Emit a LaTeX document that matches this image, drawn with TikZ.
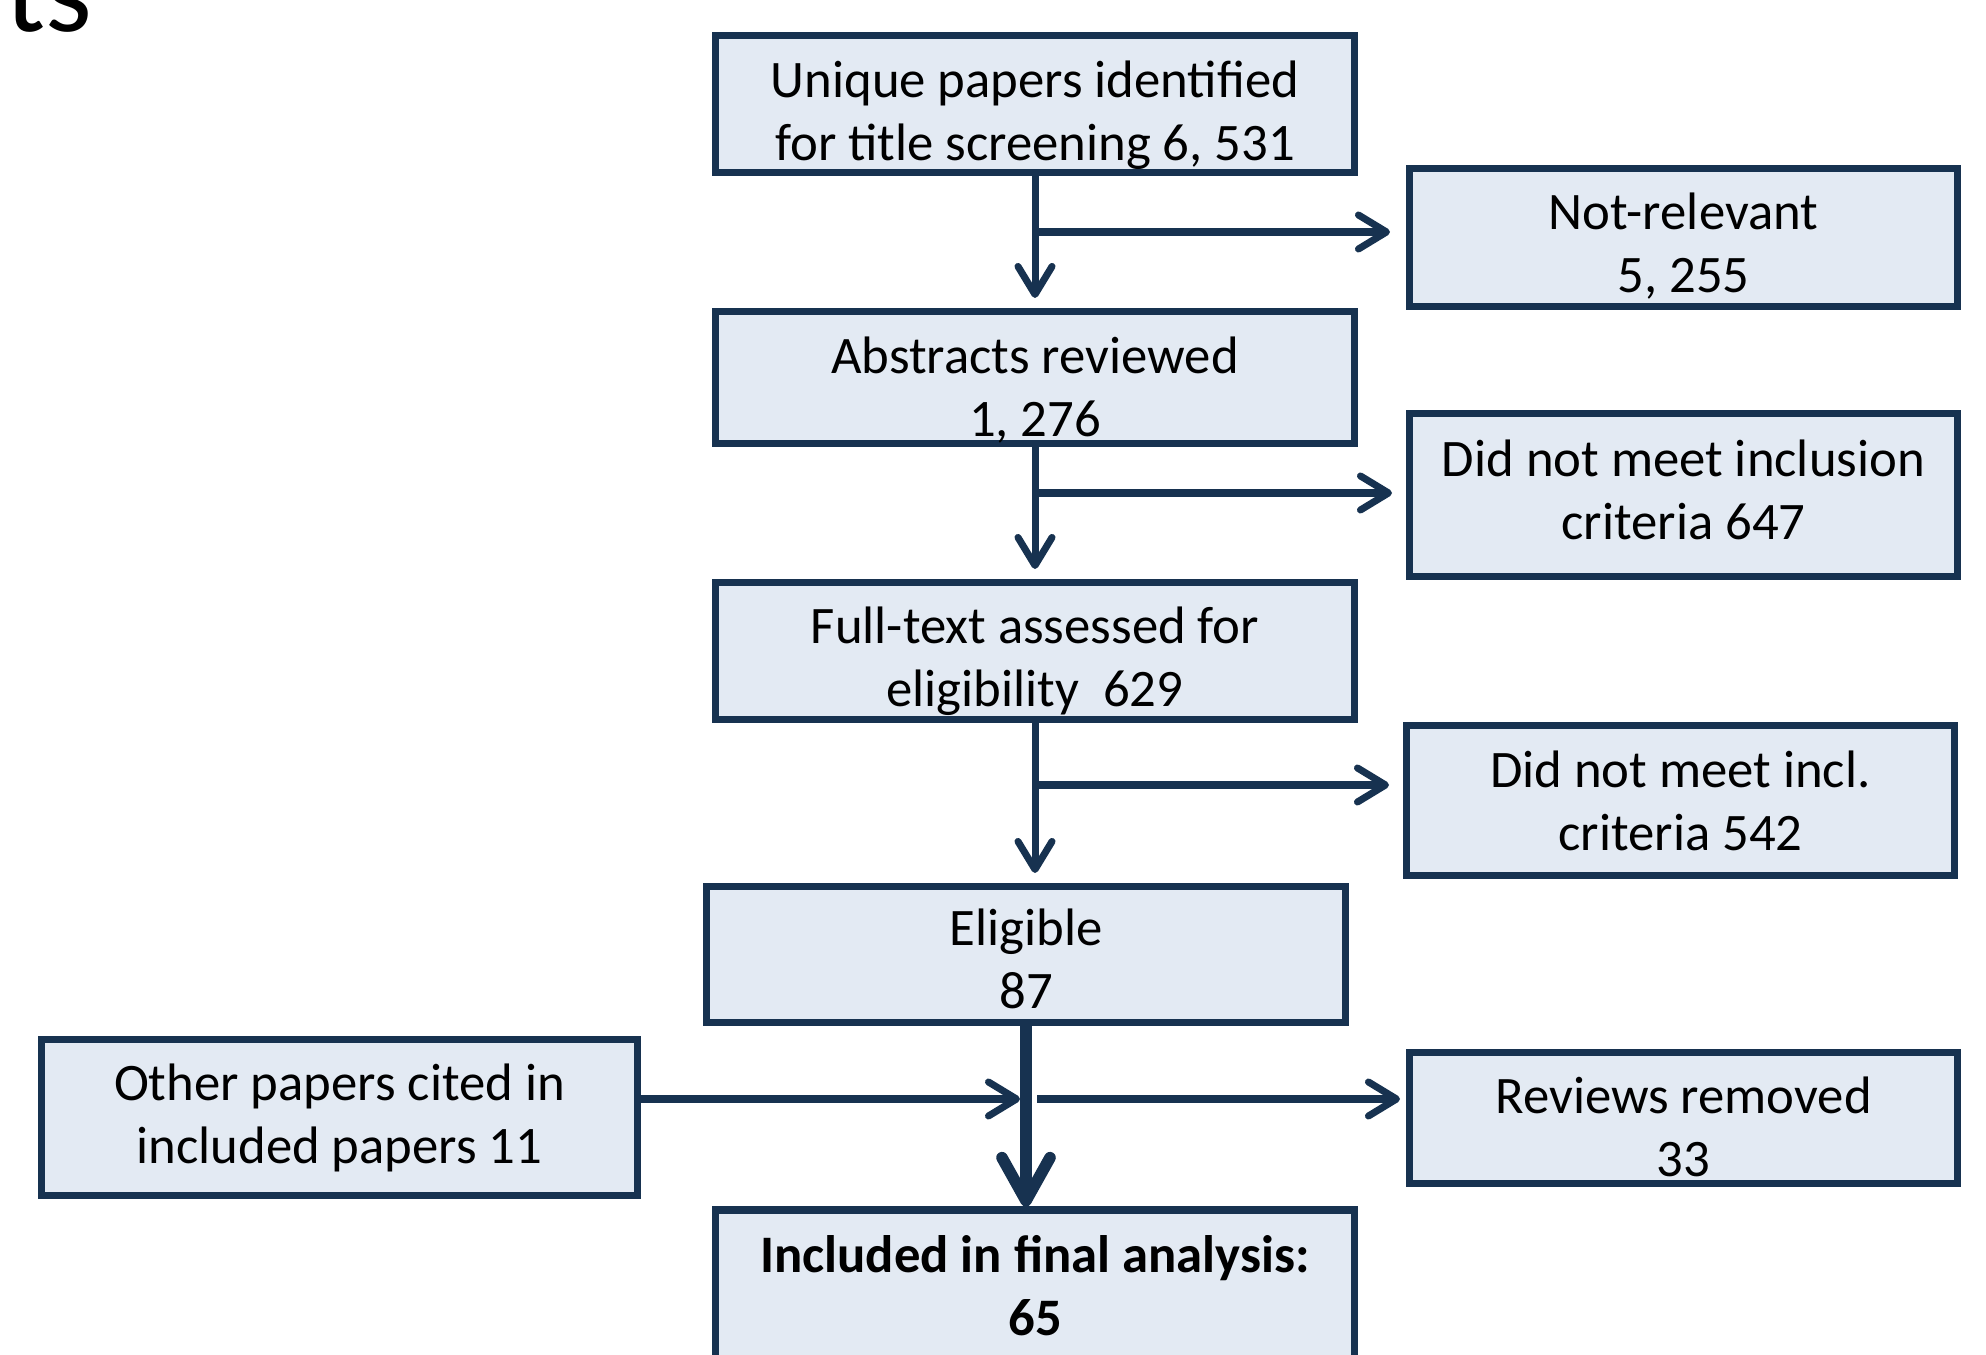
\documentclass[tikz,border=0pt]{standalone}
\usepackage{fontspec}
\setmainfont{Carlito}
\usepackage{tikz}
\usetikzlibrary{arrows.meta,calc}

\definecolor{navy}{RGB}{23,50,80}
\definecolor{paleblue}{RGB}{227,234,243}

% two centred lines, both moved down by #1 inside their box
\newcommand{\boxlines}[3]{\raisebox{-#1}[\height][\depth]{#2}\\\raisebox{-#1}[\height][\depth]{#3}}

\begin{document}
\begin{tikzpicture}[
        box/.style={draw=navy,fill=paleblue,line width=2pt,align=center,inner sep=0pt,font=\fontsize{15}{17.9}\selectfont},
        arr/.style={draw=navy,line width=2pt,-{Straight Barb[length=2.8mm,width=3.4mm,round]}},
        bigarr/.style={draw=navy,line width=3.3pt,-{Straight Barb[length=4.3mm,width=4.8mm,round]}}
    ]
        \useasboundingbox (0,0) rectangle (19.86,-13.55);

        % Title, cut by the page edge
        \node[anchor=base east,inner sep=0pt,font=\fontsize{34}{40}\selectfont] (title) at (0.93,-0.32) {ts};

        % Middle column boxes
        \node[box,minimum width=6.39cm,minimum height=1.37cm] (unique) at (10.35,-1.04) {\boxlines{1.1mm}{Unique papers identified}{for title screening 6, 531}};
        \node[box,minimum width=6.39cm,minimum height=1.32cm] (abstr) at (10.35,-3.775) {\boxlines{1.3mm}{Abstracts reviewed}{1, 276}};
        \node[box,minimum width=6.39cm,minimum height=1.37cm] (fullText) at (10.35,-6.51) {\boxlines{1.0mm}{Full-text assessed for}{eligibility~ 629}};
        \node[box,minimum width=6.39cm,minimum height=1.36cm] (eligible) at (10.26,-9.545) {\boxlines{0.4mm}{Eligible}{87}};
        \node[box,minimum width=6.39cm,minimum height=1.60cm,font=\fontsize{15}{17.9}\selectfont\bfseries] (included) at (10.35,-12.90) {\boxlines{-0.4mm}{Included in final analysis:}{65}};

        % Right side boxes
        \node[box,minimum width=5.48cm,minimum height=1.38cm] (notRel) at (16.835,-2.375) {\boxlines{0.9mm}{Not-relevant}{5, 255}};
        \node[box,minimum width=5.48cm,minimum height=1.63cm] (noIncl1) at (16.835,-4.95) {\boxlines{-0.5mm}{Did not meet inclusion}{criteria 647}};
        \node[box,minimum width=5.48cm,minimum height=1.50cm] (noIncl2) at (16.805,-8.005) {Did not meet incl.\\criteria 542};
        \node[box,minimum width=5.48cm,minimum height=1.31cm] (reviews) at (16.835,-11.18) {\boxlines{0.9mm}{Reviews removed}{33}};

        % Left side box
        \node[box,minimum width=5.96cm,minimum height=1.56cm] (others) at (3.395,-11.175) {Other papers cited in\\included papers 11};

        % Branch points
        \coordinate (split1) at (10.36,-2.32);
        \coordinate (split2) at (10.36,-4.93);
        \coordinate (split3) at (10.36,-7.85);
        \coordinate (mergeIn) at (10.20,-10.99);
        \coordinate (mergeOut) at (10.37,-10.99);

        % Downward arrows
        \draw[arr,shorten >=1mm] (unique) -- (abstr);
        \draw[arr,shorten >=1mm] (abstr) -- (fullText);
        \draw[arr,shorten >=1mm] (fullText.south) -- (fullText.south |- eligible.north);
        \draw[bigarr] (eligible.south) -- (eligible.south |- included.north);

        % Sideways arrows
        \draw[arr,shorten >=1.6mm] (split1) -- (split1 -| notRel.west);
        \draw[arr,shorten >=1.4mm] (split2) -- (split2 -| noIncl1.west);
        \draw[arr,shorten >=1.4mm] (split3) -- (split3 -| noIncl2.west);
        \draw[arr,shorten >=0.6mm] (mergeOut) -- (mergeOut -| reviews.west);
        \draw[arr] (others.east |- mergeIn) -- (mergeIn);
\end{tikzpicture}
\end{document}
